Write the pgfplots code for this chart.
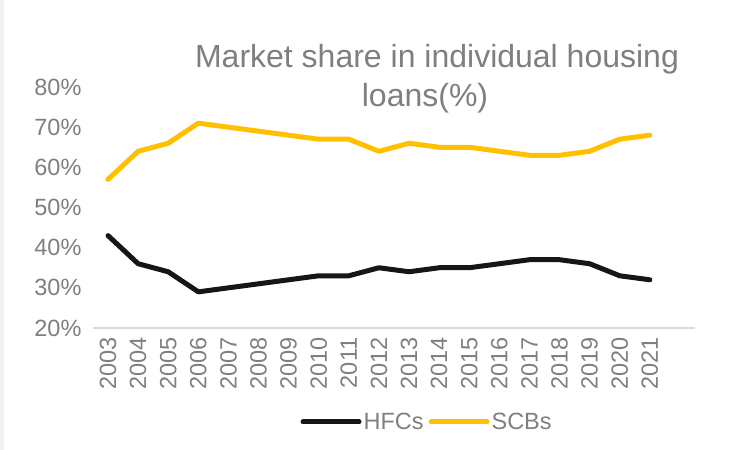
\documentclass[border=0pt]{standalone}
\usepackage{pgfplots}
\pgfplotsset{compat=1.18}
\usepackage{fontspec}
\setmainfont{Liberation Sans}
\definecolor{txt}{HTML}{7F7F7F}
\definecolor{hfc}{HTML}{161616}
\definecolor{scb}{HTML}{FFC000}
\definecolor{axl}{HTML}{D9D9D9}
\begin{document}
\begin{tikzpicture}[x=1pt,y=1pt]
\useasboundingbox (0,0) rectangle (732,450);
\fill[black!5] (0,0) rectangle (4,450);
\begin{axis}[
  at={(93pt,122pt)}, anchor=south west,
  scale only axis, width=602pt, height=241pt,
  xmin=-0.5, xmax=19.5, ymin=20, ymax=80,
  axis x line*=bottom, axis y line*=left,
  y axis line style={draw=none},
  x axis line style={draw=axl, line width=1.5pt},
  ytick={20,30,40,50,60,70,80},
  yticklabel={\pgfmathprintnumber{\tick}\%},
  xtick={0,...,18},
  xticklabels={2003,2004,2005,2006,2007,2008,2009,2010,2011,2012,2013,2014,2015,2016,2017,2018,2019,2020,2021},
  major tick length=0pt,
  /pgf/number format/assume math mode=true,
  tick label style={font=\fontsize{23.5}{24}\selectfont, text=txt},
  xticklabel style={rotate=90, anchor=east, xshift=-6pt},
  yticklabel style={xshift=-8pt},
  legend style={at={(0.555,-0.39)}, anchor=center, draw=none, fill=none,
    font=\fontsize{23.5}{24}\selectfont, text=txt, inner sep=0pt,
    /tikz/every even column/.append style={column sep=3pt}},
  legend columns=2,
  legend image code/.code={\draw[#1, line width=5pt, line cap=round] (0pt,0pt) -- (56pt,0pt);},
]
\addplot[hfc, line width=5pt, line join=round, line cap=round] coordinates {
 (0,43) (1,36) (2,34) (3,29) (4,30) (5,31) (6,32) (7,33) (8,33) (9,35)
 (10,34) (11,35) (12,35) (13,36) (14,37) (15,37) (16,36) (17,33) (18,32)};
\addlegendentry{HFCs}
\addplot[scb, line width=5pt, line join=round, line cap=round] coordinates {
 (0,57) (1,64) (2,66) (3,71) (4,70) (5,69) (6,68) (7,67) (8,67) (9,64)
 (10,66) (11,65) (12,65) (13,64) (14,63) (15,63) (16,64) (17,67) (18,68)};
\addlegendentry{SCBs}
\end{axis}
\node[anchor=base, font=\fontsize{32}{38}\selectfont, text=txt, inner sep=0pt] at (437,382) {Market share in individual housing};
\node[anchor=base, font=\fontsize{32}{38}\selectfont, text=txt, inner sep=0pt] at (425,343) {loans(\%)};
\end{tikzpicture}
\end{document}
